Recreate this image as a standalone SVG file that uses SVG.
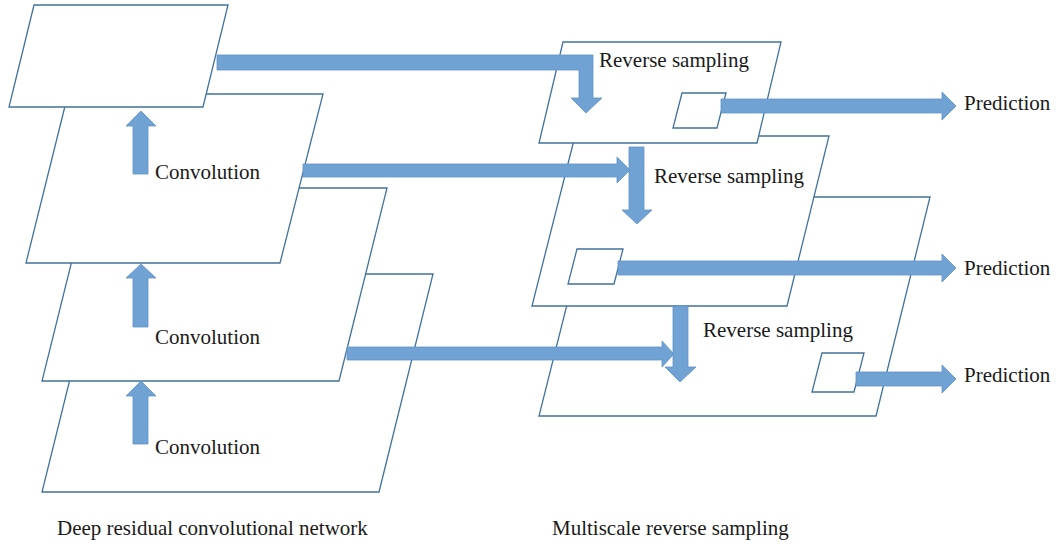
<svg xmlns="http://www.w3.org/2000/svg" width="1058" height="546" viewBox="0 0 1058 546">
  <style>
    .plane { fill: #ffffff; stroke: #41719c; stroke-width: 1.3; stroke-linejoin: miter; }
    .arrow { fill: #70a2d4; stroke: #5f93c8; stroke-width: 0.8; stroke-linejoin: miter; }
    .label { font-family: "Liberation Serif", "Times New Roman", serif; font-size: 21px; fill: #1a1a1a; }
  </style>

  <rect width="1058" height="546" fill="#ffffff"/>

  <!-- Left stack: deep residual convolutional network (back to front) -->
  <g id="layer-4">
    <polygon class="plane" points="96,274 433,274 379,492 42,492"/>
  </g>
  <g id="layer-3">
    <polygon class="plane" points="90,188 387,188 339,381 42,381"/>
  </g>
  <g id="layer-2">
    <polygon class="plane" points="68,94 323,94 280,263 26,263"/>
  </g>
  <g id="layer-1">
    <polygon class="plane" points="34,5 228,5 203,107 9,107"/>
  </g>

  <!-- Right stack: multiscale reverse sampling (back to front) -->
  <g id="scale-3">
    <polygon class="plane" points="594,197 930,197 876,416 539,416"/>
    <polygon class="plane" points="822,353 864,353 854,392 812,392"/>
  </g>
  <g id="scale-2">
    <polygon class="plane" points="575,136 829,136 787,306 532,306"/>
    <polygon class="plane" points="577,249 623,249 614,284 568,284"/>
  </g>
  <g id="scale-1">
    <polygon class="plane" points="563,42 781,42 757,143 539,143"/>
    <polygon class="plane" points="682,93 726,93 717,128 673,128"/>
  </g>

  <!-- Connectors -->
  <g id="connectors">
    <!-- convolution arrows (upward) -->
    <polygon class="arrow" points="133,174 133,126 126,126 141,111 156,126 148,126 148,174"/>
    <polygon class="arrow" points="133,327 133,278 126,278 141,264 156,278 148,278 148,327"/>
    <polygon class="arrow" points="133,444 133,396 126,396 141,381 156,396 148,396 148,444"/>

    <!-- layer 1 to scale 1 (bent arrow) -->
    <polygon class="arrow" points="217,55 593,55 593,98 602,98 586,113 571,98 579,98 579,70 217,70"/>

    <!-- layer 2 to scale 2 -->
    <polygon class="arrow" points="303,164 617,164 617,157 630,170 617,183 617,177 303,177"/>
    <!-- scale 1 down to scale 2 -->
    <polygon class="arrow" points="629,147 644,147 644,210 652,210 637,224 622,210 629,210"/>

    <!-- layer 3 to scale 3 -->
    <polygon class="arrow" points="347,347 662,347 662,341 674,354 662,367 662,360 347,360"/>
    <!-- scale 2 down to scale 3 -->
    <polygon class="arrow" points="673,306 688,306 688,367 696,367 680,382 665,367 673,367"/>

    <!-- prediction outputs -->
    <polygon class="arrow" points="721,99 942,99 942,92 956,106 942,120 942,113 721,113"/>
    <polygon class="arrow" points="618,261 942,261 942,254 956,268 942,282 942,275 618,275"/>
    <polygon class="arrow" points="856,372 942,372 942,365 956,379 942,393 942,386 856,386"/>
  </g>

  <!-- Labels -->
  <g id="labels">
    <text class="label" x="155" y="179">Convolution</text>
    <text class="label" x="155" y="344">Convolution</text>
    <text class="label" x="155" y="454">Convolution</text>

    <text class="label" x="599" y="67">Reverse sampling</text>
    <text class="label" x="654" y="183">Reverse sampling</text>
    <text class="label" x="703" y="337">Reverse sampling</text>

    <text class="label" x="964" y="110">Prediction</text>
    <text class="label" x="964" y="275">Prediction</text>
    <text class="label" x="964" y="382">Prediction</text>

    <text class="label" x="57" y="535">Deep residual convolutional network</text>
    <text class="label" x="552" y="535">Multiscale reverse sampling</text>
  </g>
</svg>
